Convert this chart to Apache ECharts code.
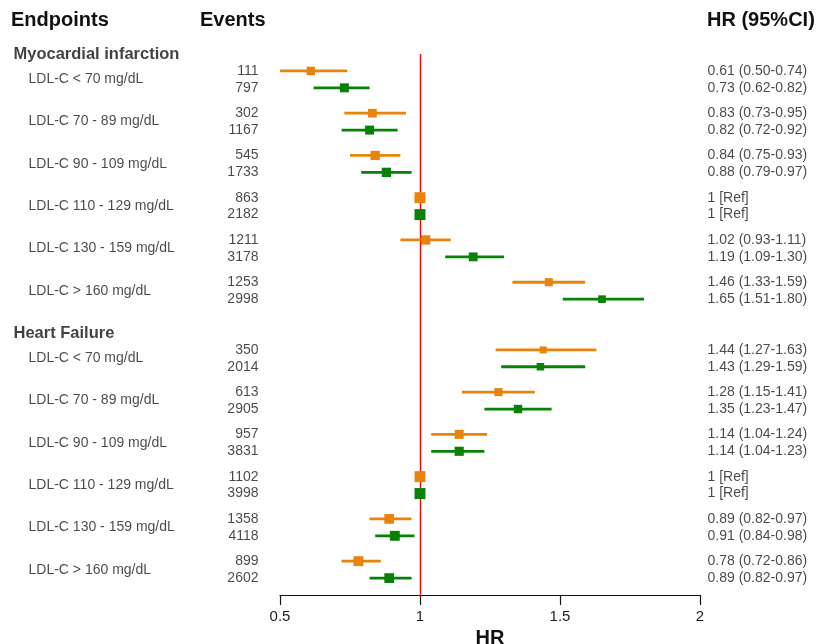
<!DOCTYPE html>
<html>
<head>
<meta charset="utf-8">
<script src="https://cdn.jsdelivr.net/npm/echarts@6/dist/echarts.min.js"></script>
<style>
html,body{margin:0;padding:0;background:#fff;}
#chart{width:819px;height:644px;}
</style>
</head>
<body>
<div id="chart"></div>
<script>
// ---------- data ----------
const groupNames = ["Myocardial infarction", "Heart Failure"];
const subgroupLabels = ["LDL-C < 70 mg/dL", "LDL-C 70 - 89 mg/dL", "LDL-C 90 - 109 mg/dL",
  "LDL-C 110 - 129 mg/dL", "LDL-C 130 - 159 mg/dL", "LDL-C > 160 mg/dL"];

const miEventsA = [111, 302, 545, 863, 1211, 1253];
const miEventsB = [797, 1167, 1733, 2182, 3178, 2998];
const miHrA = [0.61, 0.83, 0.84, 1, 1.02, 1.46];
const miLoA = [0.50, 0.73, 0.75, null, 0.93, 1.33];
const miHiA = [0.74, 0.95, 0.93, null, 1.11, 1.59];
const miHrB = [0.73, 0.82, 0.88, 1, 1.19, 1.65];
const miLoB = [0.62, 0.72, 0.79, null, 1.09, 1.51];
const miHiB = [0.82, 0.92, 0.97, null, 1.30, 1.80];

const hfEventsA = [350, 613, 957, 1102, 1358, 899];
const hfEventsB = [2014, 2905, 3831, 3998, 4118, 2602];
const hfHrA = [1.44, 1.28, 1.14, 1, 0.89, 0.78];
const hfLoA = [1.27, 1.15, 1.04, null, 0.82, 0.72];
const hfHiA = [1.63, 1.41, 1.24, null, 0.97, 0.86];
const hfHrB = [1.43, 1.35, 1.14, 1, 0.91, 0.89];
const hfLoB = [1.29, 1.23, 1.04, null, 0.84, 0.82];
const hfHiB = [1.59, 1.47, 1.23, null, 0.98, 0.97];

const xTicks = [0.5, 1, 1.5, 2];

// ---------- layout (row units on a hidden y value axis) ----------
const groupStart = [0, 16.5];
const pairStep = 2.5;
const ORANGE = "#E8840C";
const GREEN = "#078207";
const TEXT = "#1c1c1c";
const FONT = "'Liberation Sans', Arial, sans-serif";

const groups = [
  {A: [miEventsA, miHrA, miLoA, miHiA], B: [miEventsB, miHrB, miLoB, miHiB]},
  {A: [hfEventsA, hfHrA, hfLoA, hfHiA], B: [hfEventsB, hfHrB, hfLoB, hfHiB]}
];

function fmt(hr, lo, hi) {
  if (lo == null) return "1 [Ref]";
  return hr.toFixed(2) + " (" + lo.toFixed(2) + "-" + hi.toFixed(2) + ")";
}

const orangeData = [], greenData = [], eventItems = [], hrItems = [], subItems = [], headItems = [];
groups.forEach((g, gi) => {
  const base = groupStart[gi];
  headItems.push({name: groupNames[gi], value: [xTicks[0], base - 1]});
  subgroupLabels.forEach((lab, i) => {
    const yA = base + i * pairStep, yB = yA + 1;
    subItems.push({name: lab, value: [xTicks[0], yA + 0.5]});
    [[g.A, yA, orangeData], [g.B, yB, greenData]].forEach(([arr, y, target]) => {
      const ev = arr[0][i], hr = arr[1][i], lo = arr[2][i], hi = arr[3][i];
      const isRef = lo == null;
      target.push([hr, isRef ? hr : lo, isRef ? hr : hi, y, isRef ? 1 : 0]);
      eventItems.push({name: String(ev), value: [xTicks[0], y]});
      hrItems.push({name: fmt(hr, lo, hi), value: [xTicks[xTicks.length - 1], y]});
    });
  });
});

function makeRender(color) {
  return function (params, api) {
    const hr = api.value(0), lo = api.value(1), hi = api.value(2), y = api.value(3), isRef = api.value(4);
    const c = api.coord([hr, y]);
    const children = [];
    let s;
    if (isRef) {
      s = 11;
    } else {
      const p1 = api.coord([lo, y]), p2 = api.coord([hi, y]);
      children.push({type: 'line', shape: {x1: p1[0], y1: p1[1], x2: p2[0], y2: p2[1]},
        style: {stroke: color, lineWidth: 2.8}});
      s = Math.max(7, Math.min(10.5, 12 - 15 * (hi - lo)));
    }
    children.push({type: 'rect', shape: {x: c[0] - s / 2, y: c[1] - s / 2, width: s, height: s},
      style: {fill: color}});
    return {type: 'group', children};
  };
}

function textSeries(items, label) {
  return {
    type: 'scatter', data: items, symbolSize: 1, silent: true, clip: false,
    itemStyle: {color: 'rgba(0,0,0,0)'},
    label: Object.assign({show: true, formatter: '{b}', color: TEXT, fontFamily: FONT, fontSize: 14}, label),
    z: 5
  };
}

const chart = echarts.init(document.getElementById('chart'), null, {renderer: 'canvas'});
chart.setOption({
  animation: false,
  backgroundColor: '#ffffff',
  grid: {left: 280, right: 119, top: 54, bottom: 49, containLabel: false, outerBoundsMode: 'none'},
  xAxis: {
    type: 'value', min: xTicks[0], max: xTicks[xTicks.length - 1], interval: 0.5,
    splitLine: {show: false},
    axisLine: {show: true, onZero: false, lineStyle: {color: '#111', width: 1.2}},
    axisTick: {show: true, length: 10, lineStyle: {color: '#111', width: 1.2}},
    axisLabel: {color: TEXT, fontSize: 15, fontFamily: FONT, margin: 14,
      formatter: v => String(v)},
    name: 'HR', nameLocation: 'middle', nameGap: 29,
    nameTextStyle: {color: '#111', fontSize: 20, fontWeight: 'bold', fontFamily: FONT}
  },
  yAxis: {type: 'value', inverse: true, min: -1, max: 31, show: false},
  graphic: [
    {type: 'text', x: 11, y: 20, style: {text: 'Endpoints', fill: '#111', font: "bold 20px " + FONT, verticalAlign: 'middle'}},
    {type: 'text', x: 200, y: 20, style: {text: 'Events', fill: '#111', font: "bold 20px " + FONT, verticalAlign: 'middle'}},
    {type: 'text', x: 707, y: 20, style: {text: 'HR (95%CI)', fill: '#111', font: "bold 20px " + FONT, verticalAlign: 'middle'}}
  ],
  series: [
    {
      type: 'custom', name: 'orange', renderItem: makeRender(ORANGE), data: orangeData,
      encode: {x: [0, 1, 2], y: 3}, clip: false, z: 3,
      markLine: {
        silent: true, symbol: ['none', 'none'], label: {show: false},
        lineStyle: {color: '#ff0000', width: 1.4, type: 'solid'},
        data: [{xAxis: 1}], z: 2
      }
    },
    {
      type: 'custom', name: 'green', renderItem: makeRender(GREEN), data: greenData,
      encode: {x: [0, 1, 2], y: 3}, clip: false, z: 3
    },
    textSeries(eventItems, {position: 'left', distance: 21}),
    textSeries(hrItems, {position: 'right', distance: 7}),
    textSeries(subItems, {position: 'left', distance: 251, align: 'left'}),
    textSeries(headItems, {position: 'left', distance: 266, align: 'left', fontWeight: 'bold', fontSize: 16.5, color: '#111'})
  ]
});
</script>
</body>
</html>
